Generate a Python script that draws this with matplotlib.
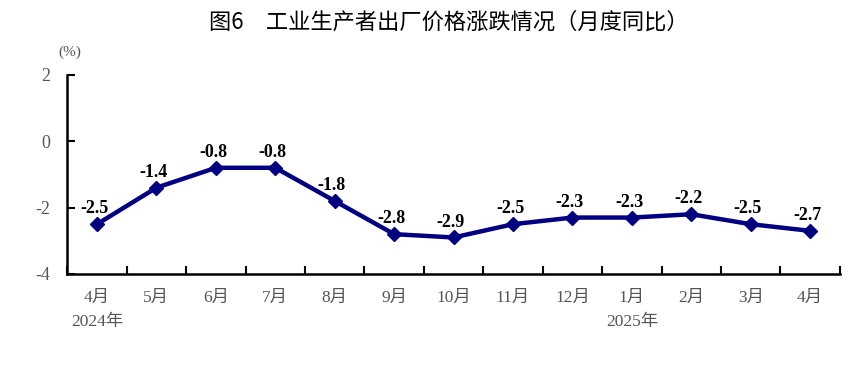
import matplotlib
matplotlib.use("Agg")
import matplotlib.pyplot as plt

months = ["4月", "5月", "6月", "7月", "8月", "9月", "10月", "11月", "12月", "1月", "2月", "3月", "4月"]
values = [-2.5, -1.4, -0.8, -0.8, -1.8, -2.8, -2.9, -2.5, -2.3, -2.3, -2.2, -2.5, -2.7]
year_labels = {0: "2024年", 9: "2025年"}
title = "图6　工业生产者出厂价格涨跌情况（月度同比）"

serif = ["Liberation Serif", "Noto Sans CJK SC"]
cjk = ["Noto Sans CJK SC", "DejaVu Sans"]

fig = plt.figure(figsize=(8.57, 3.8), dpi=100)
ax = fig.add_axes([0.0785, 0.279, 0.9015, 0.524])

x = list(range(len(months)))
ax.plot(x, values, color="#000080", lw=3.2, marker="D", markersize=7.5, zorder=3)
for xi, v in zip(x, values):
    ax.annotate(f"{v:.1f}", (xi, v), xytext=(-2, 5), textcoords="offset points",
                ha="center", va="bottom", fontsize=13, fontweight="bold",
                family=["Liberation Serif"], color="black")

ax.set_xlim(-0.5, len(months) - 0.5)
ax.set_ylim(-4, 2)
ax.set_yticks([-4, -2, 0, 2])
ax.set_yticklabels(["-4", "-2", "0", "2"], family=serif, fontsize=13, color="#555555")
ax.set_xticks([i - 0.5 for i in range(len(months) + 1)])
ax.set_xticklabels([])
ax.tick_params(axis="x", direction="in", length=6, width=1.5, colors="black")
ax.tick_params(axis="y", direction="in", length=6, width=1.5, colors="black", labelcolor="#555555", pad=12)
for s in ["top", "right"]:
    ax.spines[s].set_visible(False)
for s in ["left", "bottom"]:
    ax.spines[s].set_linewidth(1.8)

for i, m in enumerate(months):
    ax.text(i, -0.118, m, transform=ax.get_xaxis_transform(), ha="center", va="center",
            family=serif, fontsize=12.5, color="#555555")
for i, yl in year_labels.items():
    ax.text(i, -0.24, yl, transform=ax.get_xaxis_transform(), ha="center", va="center",
            family=serif, fontsize=12.5, color="#555555")

fig.text(70 / 857, 1 - 52 / 380, "(%)", ha="center", va="center", family=serif, fontsize=11, color="#555555")
fig.text(449 / 857, 1 - 22 / 380, title, ha="center", va="center", family=cjk, fontsize=16, color="black")

fig.savefig("out.png", dpi=100)
